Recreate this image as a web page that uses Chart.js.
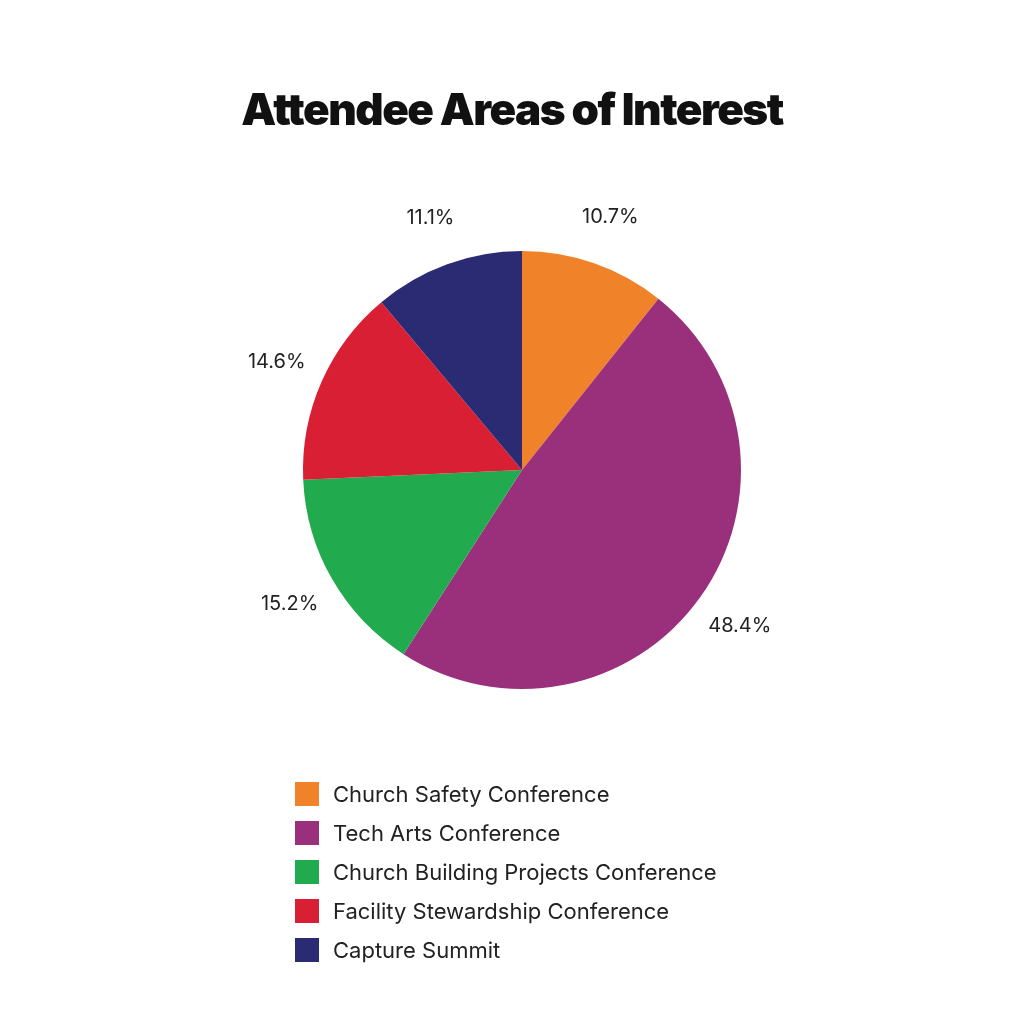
<!DOCTYPE html>
<html><head><meta charset="utf-8">
<script src="https://cdn.jsdelivr.net/npm/chart.js@4"></script>
<style>
html,body{margin:0;padding:0;background:#fff;}
#wrap{position:relative;width:1024px;height:1024px;}
#title{position:absolute;left:0;width:1024px;top:82px;text-align:center;font-family:Inter,sans-serif;font-weight:900;font-size:44px;letter-spacing:-1.5px;color:#111;}
#legend{position:absolute;left:295px;top:774px;font-family:Inter,sans-serif;font-size:22px;color:#222;}
.row{display:flex;align-items:center;height:39px;}
.box{width:24px;height:24px;margin-right:14px;}
canvas{position:absolute;left:0;top:0;}
</style></head><body>
<div id="wrap"><canvas id="c" width="1024" height="1024"></canvas>
<div id="title">Attendee Areas of Interest</div>
<div id="legend"></div></div>
<script>
const categories=["Church Safety Conference","Tech Arts Conference","Church Building Projects Conference","Facility Stewardship Conference","Capture Summit"];
const values=[10.7,48.4,15.2,14.6,11.1];
const colors=["#F0832A","#9A2F7C","#21AB4E","#D91F34","#2A2B73"];
const lg=document.getElementById('legend');
categories.forEach((c,i)=>{const r=document.createElement('div');r.className='row';r.innerHTML='<div class="box" style="background:'+colors[i]+'"></div><span>'+c+'</span>';lg.appendChild(r);});
const labelPlugin={id:'lbl',afterDatasetsDraw(ch){const ctx=ch.ctx;const meta=ch.getDatasetMeta(0);ctx.save();ctx.font='20px Inter, sans-serif';ctx.fillStyle='#222';ctx.textAlign='center';ctx.textBaseline='middle';
meta.data.forEach((a,i)=>{const m=(a.startAngle+a.endAngle)/2;const r=a.outerRadius+49;ctx.fillText(values[i].toFixed(1)+'%',a.x+Math.cos(m)*r,a.y+Math.sin(m)*r);});ctx.restore();}};
new Chart(document.getElementById('c'),{type:'pie',data:{labels:categories,datasets:[{data:values,backgroundColor:colors,borderWidth:0}]},
options:{responsive:false,animation:false,layout:{padding:{left:303,right:283,top:251,bottom:335}},plugins:{legend:{display:false},tooltip:{enabled:false}}},plugins:[labelPlugin]});
</script></body></html>
